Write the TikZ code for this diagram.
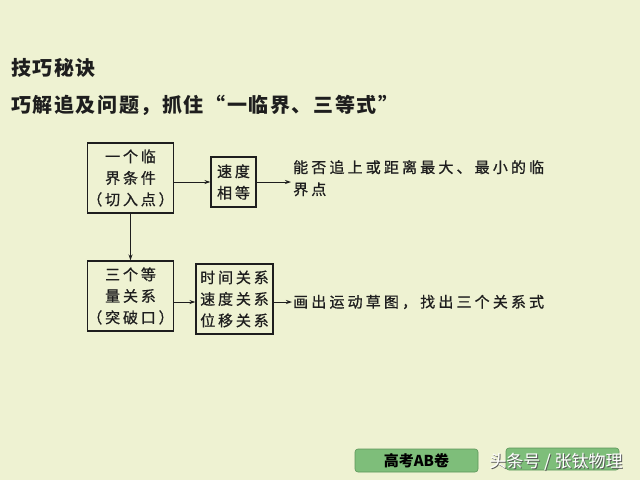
\documentclass[tikz,border=0pt]{standalone}
\usepackage{fontspec}
\newfontfamily\cjk{Noto Sans CJK SC}
\newfontfamily\cjksp[LetterSpace=19,FakeBold=0.8]{Noto Sans CJK SC}
\newfontfamily\cjkrt[LetterSpace=21,FakeBold=0.8]{Noto Sans CJK SC}
\newfontfamily\cjkhd[LetterSpace=8]{Noto Sans CJK SC}
\usetikzlibrary{arrows.meta}
\definecolor{bgc}{RGB}{238,242,210}
\definecolor{ink}{RGB}{30,30,30}
\definecolor{btn}{RGB}{126,190,122}
\definecolor{btnd}{RGB}{92,150,90}
\begin{document}
\begin{tikzpicture}[x=1pt,y=-1pt,
  box/.style={draw=ink,line width=1.1pt,align=center,inner sep=0pt,font=\cjksp\fontsize{15}{21.5}\selectfont,text=ink},
  plain/.style={inner sep=0pt,align=left,font=\cjkrt\fontsize{15}{22}\selectfont,text=ink},
  arr/.style={draw=ink,line width=0.8pt,-{Stealth[length=6pt,width=4pt]}},
  button/.style={rounded corners=3pt,fill=btn,draw=btnd,line width=0.6pt,minimum width=123pt,minimum height=23pt,inner sep=0pt}]
\fill[bgc] (0,0) rectangle (640,480);
\useasboundingbox (0,0) rectangle (640,480);
\node[anchor=west,inner sep=0pt,font=\cjkhd\bfseries\fontsize{20}{24}\selectfont,text=ink] (title) at (11,68) {技巧秘诀};
\node[anchor=west,inner sep=0pt,font=\cjkhd\bfseries\fontsize{20}{24}\selectfont,text=ink] (sub) at (11,105) {巧解追及问题，抓住“一临界、三等式”};
\node[box,minimum width=85pt,minimum height=70pt] (b1) at (130.5,178) {一个临\\界条件\\（切入点）};
\node[box,minimum width=45pt,minimum height=50pt] (b2) at (233.5,182) {速度\\相等};
\node[box,minimum width=85pt,minimum height=70pt] (b3) at (130.5,296) {三个等\\量关系\\（突破口）};
\node[box,minimum width=77pt,minimum height=70pt] (b4) at (234.5,299) {时间关系\\速度关系\\位移关系};
\node[plain,anchor=north west] (t1) at (293,160) {能否追上或距离最大、最小的临\\界点};
\node[plain,anchor=west] (t2) at (293,302) {画出运动草图，找出三个关系式};
\coordinate (t1in) at (291,182);
\draw[arr] (b1.east |- b2.west) -- (b2.west);
\draw[arr] (b2.east) -- (t1in);
\draw[arr] (b1.south) -- (b3.north);
\draw[arr] (b3.east |- t2.west) -- (b4.west |- t2.west);
\draw[arr] (b4.east |- t2.west) -- ([xshift=-1pt]t2.west);
\node[button] (k1) at (416.5,460.5) {\cjk\bfseries\fontsize{15}{18}\selectfont 高考AB卷};
\node[button,minimum width=113pt,minimum height=22pt] (k2) at (562.5,459) {};
\node[inner sep=0pt,text=gray!70!black,font=\cjk\fontsize{17}{20}\selectfont] (wms) at (557,463) {头条号 / 张钛物理};
\node[inner sep=0pt,text=white,font=\cjk\fontsize{17}{20}\selectfont] (wm) at (556,462) {头条号 / 张钛物理};
\end{tikzpicture}
\end{document}
